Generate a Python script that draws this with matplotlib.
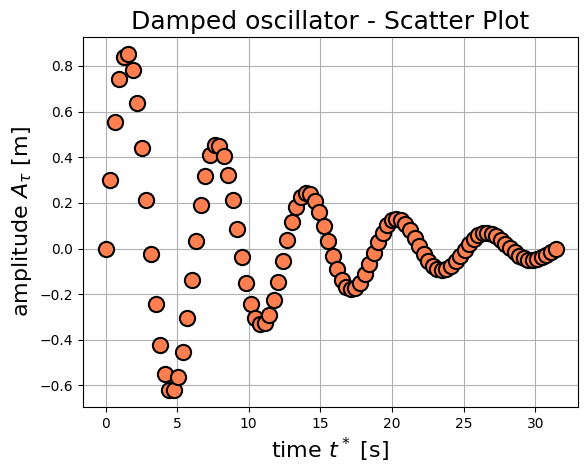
import matplotlib
matplotlib.use("Agg")
import matplotlib.pyplot as plt

time_s = [0.000, 0.317, 0.635, 0.952, 1.269, 1.587, 1.904, 2.221, 2.539, 2.856,
          3.173, 3.491, 3.808, 4.125, 4.443, 4.760, 5.077, 5.395, 5.712, 6.029,
          6.347, 6.664, 6.981, 7.299, 7.616, 7.933, 8.251, 8.568, 8.885, 9.203,
          9.520, 9.837, 10.155, 10.472, 10.789, 11.107, 11.424, 11.741, 12.059, 12.376,
          12.693, 13.011, 13.328, 13.645, 13.963, 14.280, 14.597, 14.915, 15.232, 15.549,
          15.867, 16.184, 16.501, 16.819, 17.136, 17.453, 17.771, 18.088, 18.405, 18.723,
          19.040, 19.357, 19.675, 19.992, 20.309, 20.627, 20.944, 21.261, 21.579, 21.896,
          22.213, 22.531, 22.848, 23.165, 23.483, 23.800, 24.117, 24.435, 24.752, 25.069,
          25.387, 25.704, 26.021, 26.339, 26.656, 26.973, 27.291, 27.608, 27.925, 28.243,
          28.560, 28.877, 29.195, 29.512, 29.829, 30.147, 30.464, 30.781, 31.099, 31.416]

amplitude = [0.0000, 0.3023, 0.5564, 0.7409, 0.8411, 0.8532, 0.7812, 0.6373, 0.4395, 0.2117,
             -0.0231, -0.2412, -0.4224, -0.5512, -0.6181, -0.6206, -0.5623, -0.4525, -0.3053, -0.1375,
             0.0336, 0.1909, 0.3198, 0.4096, 0.4537, 0.4509, 0.4042, 0.3208, 0.2112, 0.0878,
             -0.0367, -0.1499, -0.2415, -0.3039, -0.3327, -0.3273, -0.2902, -0.2271, -0.1455, -0.0549,
             0.0356, 0.1170, 0.1820, 0.2252, 0.2438, 0.2374, 0.2081, 0.1604, 0.0999, 0.0334,
             -0.0323, -0.0908, -0.1368, -0.1667, -0.1783, -0.1719, -0.1491, -0.1131, -0.0682, -0.0195,
             0.0282, 0.0702, 0.1027, 0.1232, 0.1304, 0.1244, 0.1066, 0.0795, 0.0463, 0.0107,
             -0.0239, -0.0540, -0.0769, -0.0910, -0.0952, -0.0900, -0.0762, -0.0559, -0.0313, -0.0052,
             0.0198, 0.0414, 0.0575, 0.0671, 0.0695, 0.0650, 0.0544, 0.0391, 0.0210, 0.0019,
             -0.0162, -0.0316, -0.0430, -0.0494, -0.0506, -0.0469, -0.0387, -0.0273, -0.0139, 0.0000]

fig = plt.figure(figsize=(5.88, 4.74), dpi=100)
ax = fig.add_axes([83/588, 1 - 407/474, (578 - 83)/588, (407 - 37)/474])
ax.scatter(time_s, amplitude, s=120, c="#FF7F50", edgecolors="black", linewidths=1.5, zorder=3)
ax.grid(True)
ax.set_axisbelow(True)
ax.set_title("Damped oscillator - Scatter Plot", fontsize=18)
ax.set_xlabel(r"time $t^*$ [s]", fontsize=16)
ax.set_ylabel(r"amplitude $A_\tau$ [m]", fontsize=16)
fig.savefig("out.png", dpi=100)
